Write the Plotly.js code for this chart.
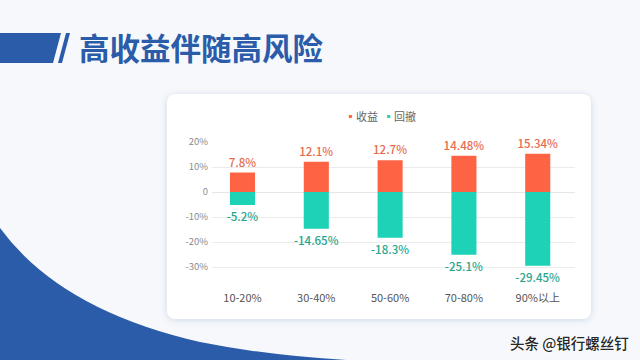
<!DOCTYPE html>
<html>
<head>
<meta charset="utf-8">
<script src="https://cdn.plot.ly/plotly-3.0.1.min.js"></script>
<style>
  html, body { margin: 0; padding: 0; width: 640px; height: 360px; overflow: hidden; background: #f6f8fb; }
  #bg { position: absolute; left: 0; top: 0; width: 640px; height: 360px; }
  #card { position: absolute; left: 167px; top: 94px; width: 424px; height: 225px; background: #ffffff;
          border-radius: 8px; box-shadow: 0 1px 6px rgba(70,110,170,0.22); }
  #chart { position: absolute; left: 0; top: 0; width: 640px; height: 360px; }
</style>
</head>
<body>
<svg id="bg" width="640" height="360" viewBox="0 0 640 360">
  <polygon points="0,33 61,33 53,63 0,63" fill="#2a5caa"/>
  <polygon points="66,33 70,33 62,63 58,63" fill="#2a5caa"/>
  <path d="M0,228 Q60,310 200,342 Q290,360 400,362 L400,370 L0,370 Z" fill="#2a5caa"/>
</svg>
<div id="card"></div>
<div id="chart"></div>
<script>
const categories = ['10-20%', '30-40%', '50-60%', '70-80%', '90%以上'];
const gains = [7.8, 12.1, 12.7, 14.48, 15.34];
const drawdowns = [-5.2, -14.65, -18.3, -25.1, -29.45];
const yTickVals = [-30, -20, -10, 0, 10, 20];
const yTickText = ['-30%', '-20%', '-10%', '0', '10%', '20%'];
const seriesNames = ['收益', '回撤'];

const gainColor = '#fe6443';
const drawColor = '#1ed2b7';
const gainTextColor = '#e66a4e';
const drawTextColor = '#27a68c';
const FONT = '"Noto Sans CJK SC", "Noto Sans", sans-serif';

const traces = [
  {
    type: 'bar', name: seriesNames[0], x: categories, y: gains,
    marker: { color: gainColor }, width: 0.34,
    text: gains.map(v => v + '%'), textposition: 'outside', cliponaxis: false,
    constraintext: 'none',
    textfont: { color: gainTextColor, size: 11.5, family: FONT, weight: 500 },
    showlegend: false, hoverinfo: 'skip'
  },
  {
    type: 'bar', name: seriesNames[1], x: categories, y: drawdowns,
    marker: { color: drawColor }, width: 0.34,
    text: drawdowns.map(v => v + '%'), textposition: 'outside', cliponaxis: false,
    constraintext: 'none',
    textfont: { color: drawTextColor, size: 11.5, family: FONT, weight: 500 },
    showlegend: false, hoverinfo: 'skip'
  }
];

const legendText = '<span style="color:' + gainColor + '">▪</span>' + seriesNames[0] +
  '  <span style="color:' + drawColor + '">▪</span>' + seriesNames[1];

const plotL = 212, plotR = 65, plotT = 141, plotB = 73;
const plotW = 640 - plotL - plotR, plotH = 360 - plotT - plotB;

const layout = {
  width: 640, height: 360,
  margin: { l: plotL, r: plotR, t: plotT, b: plotB, pad: 0 },
  paper_bgcolor: 'rgba(0,0,0,0)', plot_bgcolor: 'rgba(0,0,0,0)',
  barmode: 'overlay',
  font: { family: FONT },
  title: {
    text: '高收益伴随高风险', xref: 'container', yref: 'container',
    x: 79 / 640, xanchor: 'left', y: 1 - 49 / 360, yanchor: 'middle',
    font: { family: FONT, size: 30.5, color: '#2a5caa', weight: 'bold' }
  },
  xaxis: {
    type: 'category', range: [-0.413, 4.505],
    showgrid: false, zeroline: false, showline: false, ticks: '',
    tickfont: { size: 11, color: '#555555', family: FONT },
    ticklabelstandoff: 3, fixedrange: true
  },
  yaxis: {
    range: [-38, 20.4], tickvals: yTickVals, ticktext: yTickText,
    showgrid: true, gridcolor: '#ebebeb', gridwidth: 1,
    zeroline: true, zerolinecolor: '#e6e6e6', zerolinewidth: 1,
    showline: false, ticks: '',
    tickfont: { size: 9.5, color: '#8c8c8c', family: FONT },
    ticklabelstandoff: 3, fixedrange: true
  },
  annotations: [
    {
      text: legendText, xref: 'paper', yref: 'paper', showarrow: false,
      x: (380 - plotL) / plotW, y: (360 - plotB - 116) / plotH,
      xanchor: 'center', yanchor: 'middle',
      font: { size: 11, color: '#666666', family: FONT }
    },
    {
      text: '头条 @银行螺丝钉', xref: 'paper', yref: 'paper', showarrow: false,
      x: (631 - plotL) / plotW, y: (360 - plotB - 342) / plotH,
      xanchor: 'right', yanchor: 'middle',
      font: { size: 14.5, color: '#262626', family: FONT, weight: 500, shadow: '1px 1px 2px #ffffff' }
    }
  ],
  showlegend: false
};

Plotly.newPlot('chart', traces, layout, { displayModeBar: false, staticPlot: true });
</script>
</body>
</html>
